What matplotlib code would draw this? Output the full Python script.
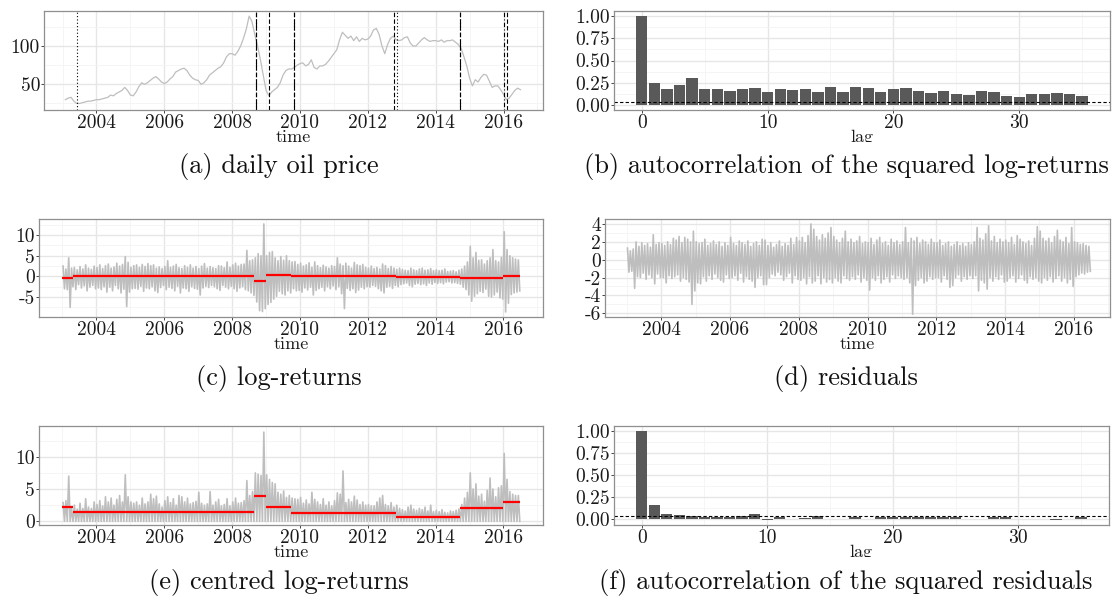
import numpy as np
import matplotlib
matplotlib.use('Agg')
import matplotlib.pyplot as plt
from matplotlib.ticker import FixedLocator
from matplotlib.transforms import Bbox, TransformedBbox

plt.rcParams['font.family'] = ['cmr10', 'DejaVu Serif']
plt.rcParams['mathtext.fontset'] = 'cm'
plt.rcParams['axes.unicode_minus'] = False
plt.rcParams['axes.formatter.use_mathtext'] = True

# ---------------- data (monthly readings, Jan 2003 - Jun 2016) ----------------
oil_price = [
    30, 32, 33, 28, 25, 25, 26, 27, 28, 28, 29, 30,
    30, 31, 32, 33, 36, 35, 38, 40, 42, 46, 42, 36,
    35, 40, 47, 52, 50, 52, 55, 58, 60, 57, 53, 51,
    53, 57, 60, 66, 68, 70, 71, 68, 62, 58, 56, 55,
    50, 52, 56, 62, 65, 68, 71, 73, 78, 86, 90, 90,
    88, 93, 100, 110, 122, 139, 132, 115, 100, 82, 62, 42,
    35, 40, 43, 46, 52, 62, 68, 70, 70, 72, 75, 77,
    78, 74, 76, 82, 72, 70, 74, 74, 76, 80, 85, 90,
    95, 108, 118, 114, 110, 113, 107, 112, 106, 110, 108, 109,
    113, 121, 123, 115, 100, 90, 102, 110, 113, 108, 107, 108,
    111, 112, 104, 100, 100, 104, 108, 111, 108, 106, 107, 107,
    106, 108, 105, 107, 107, 108, 105, 102, 97, 86, 74, 58,
    48, 56, 53, 59, 63, 62, 54, 46, 48, 48, 43, 37,
    30, 32, 37, 42, 45, 43]

logret_high = [
    2.5, 1.8, 4.5, 2.0, 2.2, 1.6, 2.4, 1.8, 2.8, 2.0, 1.7, 2.5,
    2.2, 2.8, 1.9, 2.6, 3.0, 2.0, 2.3, 3.2, 2.5, 2.9, 4.8, 3.4,
    2.2, 2.6, 2.8, 2.2, 2.9, 2.4, 3.1, 2.6, 2.8, 2.0, 2.3, 1.9,
    2.4, 3.8, 2.2, 2.5, 2.9, 2.1, 1.9, 2.6, 2.2, 2.8, 2.0, 2.4,
    1.9, 2.5, 3.1, 2.0, 2.4, 2.1, 1.9, 2.6, 2.5, 2.1, 3.5, 2.2,
    2.8, 3.2, 2.5, 2.9, 3.0, 6.3, 3.8, 4.0, 4.5, 5.5, 5.0, 12.7,
    5.0, 5.8, 6.0, 4.5, 3.8, 4.8, 3.9, 5.0, 3.8, 3.5, 3.6, 2.9,
    3.2, 2.5, 2.8, 3.3, 2.2, 3.5, 2.6, 2.1, 2.7, 2.3, 2.0, 2.6,
    2.4, 4.5, 3.0, 2.6, 3.2, 2.5, 2.0, 3.4, 2.8, 2.6, 2.9, 2.2,
    2.0, 2.5, 1.9, 2.2, 1.8, 3.0, 2.6, 1.9, 2.4, 2.0, 1.7, 2.0,
    1.7, 1.5, 1.4, 2.0, 1.6, 1.4, 1.8, 2.0, 1.5, 1.6, 1.9, 1.4,
    1.6, 1.4, 1.5, 1.8, 1.2, 1.3, 1.4, 1.1, 1.5, 1.8, 2.5, 3.5,
    7.3, 4.5, 5.8, 3.9, 4.0, 3.0, 3.8, 4.5, 6.5, 3.8, 3.5, 4.6,
    10.8, 6.5, 5.0, 4.5, 4.2, 4.0]

logret_low = [
    -3.0, -3.2, -7.5, -2.5, -3.2, -2.0, -2.8, -2.3, -3.5, -2.6, -2.2, -3.0,
    -2.8, -3.2, -2.5, -3.8, -2.6, -3.5, -2.2, -3.0, -4.0, -3.1, -7.3, -3.8,
    -3.0, -2.9, -3.1, -2.4, -3.6, -2.8, -3.0, -2.5, -3.5, -3.9, -2.7, -2.2,
    -3.2, -2.6, -2.9, -3.5, -2.4, -4.0, -2.8, -3.0, -3.6, -2.5, -2.9, -3.1,
    -4.5, -2.8, -2.4, -2.7, -2.2, -2.5, -3.0, -3.4, -2.2, -2.6, -3.0, -2.4,
    -3.0, -3.6, -2.8, -2.5, -3.2, -3.5, -4.0, -4.6, -6.2, -8.3, -8.5, -7.8,
    -6.8, -6.3, -5.5, -4.8, -3.6, -4.2, -4.5, -3.5, -4.0, -3.0, -3.5, -3.4,
    -3.8, -2.8, -3.3, -2.6, -4.5, -3.4, -3.0, -2.6, -3.5, -2.5, -3.0, -2.3,
    -3.2, -2.5, -4.2, -7.8, -2.9, -3.4, -3.0, -3.9, -3.3, -2.6, -3.0, -2.5,
    -2.6, -2.2, -2.4, -3.0, -3.5, -4.0, -2.6, -2.4, -2.9, -2.2, -2.5, -2.0,
    -1.8, -1.6, -2.2, -2.5, -1.9, -1.7, -2.0, -1.8, -2.2, -1.6, -1.9, -1.5,
    -1.7, -1.5, -1.8, -1.4, -1.3, -1.6, -1.5, -1.7, -1.9, -2.6, -3.2, -4.5,
    -6.0, -4.8, -4.2, -3.6, -3.9, -3.1, -4.8, -5.0, -4.5, -3.8, -5.2, -5.5,
    -8.6, -6.5, -4.4, -4.0, -3.8, -3.5]

resid_high = [
    1.3, 1.0, 1.2, 2.0, 1.5, 1.9, 1.6, 1.8, 1.4, 2.8, 1.7, 1.9,
    1.8, 1.6, 2.0, 1.7, 2.4, 2.2, 2.6, 1.9, 2.5, 2.3, 2.0, 3.2,
    2.0, 1.8, 1.9, 2.3, 1.6, 1.8, 2.1, 1.7, 2.0, 1.5, 1.9, 1.6,
    2.5, 1.8, 1.6, 2.1, 1.9, 1.7, 2.1, 1.5, 1.8, 2.0, 1.6, 2.3,
    2.2, 1.6, 1.9, 1.4, 1.7, 2.1, 1.5, 1.8, 1.6, 2.4, 1.7, 2.5,
    2.1, 2.5, 1.9, 2.7, 4.0, 3.4, 2.6, 2.2, 2.8, 2.4, 3.0, 3.6,
    2.6, 2.2, 1.9, 2.4, 3.2, 2.0, 2.3, 1.9, 2.1, 2.6, 1.8, 2.0,
    1.9, 2.4, 1.7, 2.2, 2.5, 1.8, 2.0, 1.6, 2.3, 1.9, 2.1, 1.7,
    2.0, 3.6, 1.9, 2.4, 2.1, 2.5, 1.8, 2.2, 2.0, 1.7, 2.3, 1.9,
    1.9, 2.2, 1.6, 1.8, 2.0, 1.5, 1.7, 2.0, 1.6, 1.8, 1.5, 1.9,
    1.7, 2.0, 3.6, 2.4, 2.2, 2.9, 3.8, 2.1, 2.6, 1.9, 2.3, 2.0,
    2.2, 1.9, 2.5, 1.7, 2.7, 2.3, 2.0, 1.8, 2.1, 1.6, 2.4, 3.7,
    3.2, 2.4, 2.1, 2.4, 1.9, 2.6, 3.3, 2.2, 2.0, 2.5, 1.8, 3.6,
    2.0, 1.9, 1.7, 1.8, 1.6, 1.5]

resid_low = [
    -1.4, -1.3, -3.2, -1.9, -2.0, -1.5, -2.2, -1.7, -2.0, -2.7, -1.6, -2.0,
    -2.0, -2.6, -1.8, -2.1, -1.9, -1.7, -2.4, -2.0, -2.2, -2.5, -5.0, -3.5,
    -2.6, -2.7, -1.9, -2.4, -1.8, -2.2, -1.6, -2.0, -2.3, -2.5, -1.7, -2.1,
    -2.0, -1.8, -2.3, -1.5, -2.5, -1.9, -2.2, -2.4, -3.1, -2.0, -1.8, -2.8,
    -2.8, -2.0, -1.6, -1.8, -1.4, -1.7, -2.3, -1.9, -1.5, -2.6, -1.8, -2.2,
    -2.3, -2.0, -2.7, -1.9, -2.6, -2.4, -1.8, -2.7, -2.0, -2.5, -2.2, -2.6,
    -2.0, -2.4, -2.6, -1.8, -2.1, -2.3, -1.9, -2.2, -1.7, -2.5, -2.0, -2.3,
    -3.4, -2.0, -2.3, -1.8, -2.6, -2.2, -1.9, -2.5, -1.7, -2.1, -1.8, -2.0,
    -2.2, -2.0, -2.6, -6.1, -2.9, -2.3, -2.0, -2.6, -2.4, -1.9, -2.2, -2.0,
    -2.0, -2.5, -1.8, -2.2, -3.1, -2.9, -2.0, -1.7, -2.4, -1.9, -2.2, -1.8,
    -2.1, -1.8, -3.5, -2.3, -2.6, -3.3, -2.0, -2.4, -1.9, -2.2, -1.7, -2.5,
    -2.4, -2.0, -1.8, -2.5, -2.1, -1.7, -2.3, -2.6, -1.9, -2.2, -2.0, -2.4,
    -2.6, -2.0, -2.3, -1.9, -2.5, -2.1, -1.8, -2.4, -2.0, -2.6, -2.2, -3.0,
    -1.9, -1.7, -1.5, -1.6, -1.4, -1.3]

centred_high = [
    2.9, 3.2, 7.0, 2.0, 2.5, 1.9, 2.8, 2.0, 3.5, 2.2, 2.0, 3.0,
    2.6, 3.2, 2.4, 3.8, 3.0, 3.6, 2.5, 3.4, 4.0, 3.0, 7.2, 3.8,
    3.0, 2.8, 3.0, 2.5, 3.6, 2.7, 3.0, 4.2, 3.5, 3.9, 2.7, 2.2,
    3.2, 3.8, 2.9, 3.5, 2.5, 4.0, 3.8, 3.0, 3.6, 2.7, 2.9, 3.1,
    4.5, 2.8, 2.5, 2.7, 4.6, 2.5, 3.0, 3.4, 2.4, 2.6, 3.5, 2.4,
    3.0, 3.6, 2.8, 2.9, 3.2, 6.3, 4.0, 4.6, 7.5, 7.3, 7.1, 13.8,
    7.2, 6.5, 6.0, 5.8, 4.5, 4.2, 4.7, 3.7, 4.0, 3.6, 3.5, 3.4,
    3.7, 2.8, 3.3, 2.7, 4.5, 3.4, 3.0, 2.6, 3.5, 2.5, 3.0, 2.4,
    3.2, 4.4, 4.2, 7.8, 2.9, 3.4, 3.0, 3.9, 3.3, 2.6, 3.0, 2.5,
    2.6, 2.4, 2.4, 3.0, 3.6, 4.0, 2.6, 2.4, 2.9, 2.2, 2.5, 2.0,
    1.8, 1.6, 2.2, 2.5, 1.9, 1.7, 2.0, 1.8, 2.2, 1.6, 2.5, 1.5,
    1.7, 1.5, 1.8, 1.4, 1.3, 1.6, 1.5, 1.7, 1.9, 2.6, 3.6, 4.5,
    7.5, 5.0, 5.8, 3.9, 4.2, 3.1, 4.8, 6.7, 5.0, 3.8, 5.2, 5.5,
    10.5, 6.5, 4.6, 4.2, 4.0, 4.0]

# segment (change-point) estimates
seg_start = [2003.0, 2003.31, 2008.64, 2009.01, 2009.73, 2012.84, 2014.72, 2015.98]
seg_end = [2003.31, 2008.64, 2009.01, 2009.73, 2012.84, 2014.72, 2015.98, 2016.5]
seg_mean = [-0.4, 0.1, -1.1, 0.25, 0.0, -0.05, -0.35, 0.15]
seg_scale = [2.25, 1.5, 3.9, 2.15, 1.35, 0.72, 2.05, 3.0]

# change points drawn in panel (a)
cp_time = [2003.42, 2008.70, 2008.70, 2009.09, 2009.82, 2009.82,
           2012.78, 2012.86, 2014.73, 2014.73, 2016.00, 2016.10]
cp_type = ['dotted', 'dashed', 'dotdash', 'dashed', 'dashed', 'dotdash',
           'dashed', 'dotted', 'dashed', 'dotdash', 'dotdash', 'dashed']

lags = list(range(36))
acf_sq_returns = [1.0, 0.25, 0.186, 0.23, 0.30, 0.186, 0.186, 0.163, 0.186, 0.197,
                  0.15, 0.186, 0.174, 0.186, 0.15, 0.21, 0.15, 0.21, 0.197, 0.15,
                  0.186, 0.197, 0.163, 0.14, 0.163, 0.129, 0.117, 0.163, 0.15, 0.106,
                  0.095, 0.129, 0.129, 0.14, 0.129, 0.106]
acf_sq_resid = [1.0, 0.165, 0.062, 0.05, 0.04, 0.025, 0.025, 0.022, 0.038, 0.06,
                -0.004, 0.025, 0.002, 0.012, 0.04, 0.008, 0.0, 0.025, 0.005, 0.02,
                0.025, 0.02, 0.028, 0.022, 0.022, 0.02, 0.002, 0.008, 0.02, 0.025,
                0.008, 0.003, 0.002, -0.01, 0.008, 0.025]
conf_bound = 0.034

year_ticks = [2004, 2006, 2008, 2010, 2012, 2014, 2016]
year_minor = [2003, 2005, 2007, 2009, 2011, 2013, 2015, 2017]
captions = ['(a) daily oil price', '(b) autocorrelation of the squared log-returns',
            '(c) log-returns', '(d) residuals', '(e) centred log-returns',
            '(f) autocorrelation of the squared residuals']

# ---------------- figure ----------------
W, H = 1113, 598
fig = plt.figure(figsize=(W / 100, H / 100), dpi=100)


def add_ax(left, right, top, bottom):
    return fig.add_axes([left / W, 1 - bottom / H, (right - left) / W, (bottom - top) / H])


GREY = '#BEBEBE'
TICK_FS = 14
LAB_FS = 13


def style(ax, xlim, ylim, xmaj, xmin, ymaj, ymin, ylabels, xlabel):
    ax.set_xlim(*xlim)
    ax.set_ylim(*ylim)
    ax.xaxis.set_major_locator(FixedLocator(xmaj))
    ax.xaxis.set_minor_locator(FixedLocator(xmin))
    ax.yaxis.set_major_locator(FixedLocator(ymaj))
    ax.yaxis.set_minor_locator(FixedLocator(ymin))
    ax.set_yticklabels(ylabels)
    ax.set_xticklabels([str(v) for v in xmaj])
    ax.grid(which='major', color='#E6E6E6', lw=1.0)
    ax.grid(which='minor', color='#F4F4F4', lw=0.6)
    ax.set_axisbelow(True)
    ax.tick_params(which='minor', length=0)
    ax.tick_params(which='major', length=2, width=0.7, color='#444444',
                   labelsize=TICK_FS, pad=0.8, labelcolor='#1a1a1a')
    for s in ax.spines.values():
        s.set_color('#8f8f8f')
        s.set_linewidth(0.9)
    return ax.set_xlabel(xlabel, fontsize=LAB_FS, labelpad=-1.5, color='#1a1a1a')


DASHES = {'dashed': (0, (4, 2)), 'dotdash': (0, (1, 2, 4, 2)), 'dotted': (0, (1, 2))}

n = len(oil_price)
t_price = 2003 + (np.arange(n) + 1) / 12.0
t_mid = 2003 + (np.arange(n) + 0.5) / 12.0
half = 0.25 / 12.0
t_zig = np.column_stack([t_mid - half, t_mid + half]).ravel()
ZIG_LW = 1.2

# (a) daily oil price
ax = add_ax(43.9, 543.2, 11, 110)
ax.plot(t_price, oil_price, color=GREY, lw=0.9)
for tc, ty in zip(cp_time, cp_type):
    ax.axvline(tc, color='black', lw=0.8, linestyle=DASHES[ty])
style(ax, (2002.45, 2017.17), (16.5, 145.7), year_ticks, year_minor,
      [50, 100], [25, 75, 125], ['50', '100'], 'time')

# (b) ACF squared log-returns
ax = add_ax(613.6, 1110.3, 11, 110)
ax.bar(lags, acf_sq_returns, width=0.9, color='#595959', lw=0)
ax.axhline(conf_bound, color='black', lw=0.8, linestyle=(0, (3, 2)))
lab_b = style(ax, (-2.24, 37.24), (-0.052, 1.052), [0, 10, 20, 30], [-5, 5, 15, 25, 35],
              [0, 0.25, 0.5, 0.75, 1.0], [0.125, 0.375, 0.625, 0.875],
              ['0.00', '0.25', '0.50', '0.75', '1.00'], 'lag')

# (c) log-returns
ax = add_ax(38.6, 543.2, 219, 317.3)
ax.plot(t_zig, np.column_stack([logret_high, logret_low]).ravel(), color=GREY, lw=ZIG_LW)
ax.hlines(seg_mean, seg_start, seg_end, color='red', lw=1.6)
style(ax, (2002.30, 2017.17), (-9.9, 13.9), year_ticks, year_minor,
      [-5, 0, 5, 10], [-7.5, -2.5, 2.5, 7.5, 12.5], ['-5', '0', '5', '10'], 'time')

# (d) residuals
ax = add_ax(605.1, 1110.3, 219, 317.3)
ax.plot(t_zig, np.column_stack([resid_high, resid_low]).ravel(), color=GREY, lw=ZIG_LW)
style(ax, (2002.37, 2017.06), (-6.45, 4.56), year_ticks, year_minor,
      [-6, -4, -2, 0, 2, 4], [-5, -3, -1, 1, 3], ['-6', '-4', '-2', '0', '2', '4'], 'time')

# (e) centred log-returns
ax = add_ax(38.6, 543.2, 425.7, 525)
base = np.zeros(n)
ax.plot(t_zig, np.column_stack([centred_high, base]).ravel(), color=GREY, lw=ZIG_LW)
ax.hlines(seg_scale, seg_start, seg_end, color='red', lw=1.6)
style(ax, (2002.30, 2017.17), (-0.57, 14.8), year_ticks, year_minor,
      [0, 5, 10], [2.5, 7.5, 12.5], ['0', '5', '10'], 'time')

# (f) ACF squared residuals
ax = add_ax(613.6, 1109.2, 425.7, 525)
ax.bar(lags, acf_sq_resid, width=0.9, color='#595959', lw=0)
ax.axhline(conf_bound, color='black', lw=0.8, linestyle=(0, (3, 2)))
lab_f = style(ax, (-2.24, 37.24), (-0.065, 1.06), [0, 10, 20, 30], [-5, 5, 15, 25, 35],
              [0, 0.25, 0.5, 0.75, 1.0], [0.125, 0.375, 0.625, 0.875],
              ['0.00', '0.25', '0.50', '0.75', '1.00'], 'lag')

# "lag" labels are cut at the bottom in the reference
for lab, ycut in ((lab_b, 141.5), (lab_f, 557.0)):
    lab.set_clip_on(True)
    lab.set_clip_box(TransformedBbox(Bbox([[0, 1 - ycut / H], [1, 1]]), fig.transFigure))

# captions
cap_pos = [(279, 167), (846, 167), (279, 378), (846, 378), (279, 583), (846, 583)]
for (cx, cy), txt in zip(cap_pos, captions):
    fig.text(cx / W, 1 - cy / H, txt, ha='center', va='center', fontsize=19, color='#111111')

fig.savefig('out.png', dpi=100)
